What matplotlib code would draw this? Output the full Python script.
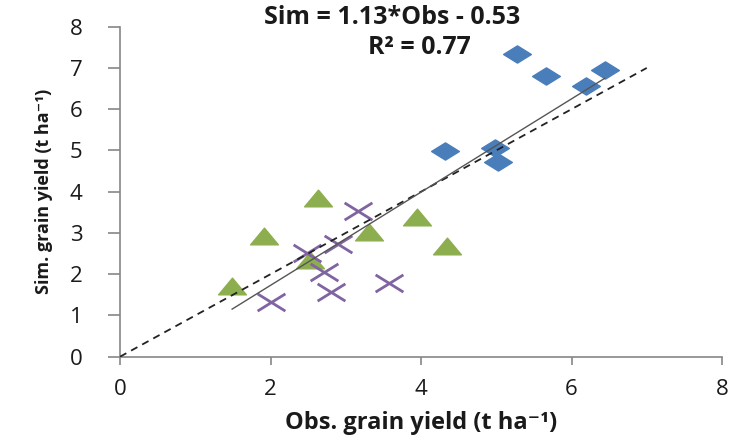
import matplotlib
matplotlib.use("Agg")
import matplotlib.pyplot as plt
import numpy as np
from matplotlib.path import Path

# Data
obs_blue = [5.28, 5.66, 6.44, 6.19, 4.32, 4.98, 5.02]
sim_blue = [7.33, 6.80, 6.96, 6.57, 4.99, 5.07, 4.72]

obs_green = [2.63, 3.95, 1.91, 3.31, 4.34, 2.52, 1.49]
sim_green = [3.85, 3.38, 2.93, 3.03, 2.69, 2.34, 1.72]

obs_purple = [3.16, 2.90, 2.48, 2.71, 2.80, 3.58, 2.01]
sim_purple = [3.54, 2.73, 2.51, 2.05, 1.56, 1.78, 1.33]

slope, intercept = 1.13, -0.53
r2 = 0.77
one_to_one = [0, 7]
xticks = [0, 2, 4, 6, 8]
yticks = [0, 1, 2, 3, 4, 5, 6, 7, 8]

plt.rcParams['font.family'] = ['Open Sans', 'DejaVu Sans']

fig = plt.figure(figsize=(7.3, 4.36), dpi=100)
ax = fig.add_axes([120/730, 1-356.7/436, (722-120)/730, (356.7-26.7)/436])

# wide markers
diamond = Path([(-1, 0), (0, 0.62), (1, 0), (0, -0.62), (-1, 0)],
               [Path.MOVETO, Path.LINETO, Path.LINETO, Path.LINETO, Path.CLOSEPOLY])
triangle = Path([(-1, -0.6), (0, 0.6), (1, -0.6), (-1, -0.6)],
                [Path.MOVETO, Path.LINETO, Path.LINETO, Path.CLOSEPOLY])
cross = Path([(-1, -0.62), (1, 0.62), (-1, 0.62), (1, -0.62)],
             [Path.MOVETO, Path.LINETO, Path.MOVETO, Path.LINETO])

# 1:1 dashed line
ax.plot(one_to_one, one_to_one, color='#222222', lw=1.3, ls=(0, (4, 3)), zorder=4)

ax.plot(obs_blue, sim_blue, ls='none', marker=diamond, ms=20, color='#4A7EBB',
        mec='#4A7EBB', zorder=3)
ax.plot(obs_green, sim_green, ls='none', marker=triangle, ms=20, color='#8DAE4E',
        mec='#8DAE4E', zorder=3)
ax.plot(obs_purple, sim_purple, ls='none', marker=cross, ms=20, mfc='none',
        mec='#8064A2', mew=2.0, zorder=3)

# trend line over all observed data
all_obs = np.array(obs_blue + obs_green + obs_purple)
xs = np.array([all_obs.min(), all_obs.max()])
ax.plot(xs, slope * xs + intercept, color='#555555', lw=1.0, zorder=5)

ax.set_xlim(0, 8)
ax.set_ylim(0, 8)
ax.set_xticks(xticks)
ax.set_yticks(yticks)
for s in ['top', 'right']:
    ax.spines[s].set_visible(False)
for s in ['left', 'bottom']:
    ax.spines[s].set_color('#868686')
    ax.spines[s].set_linewidth(1.2)
ax.tick_params(axis='both', colors='#868686', width=1.2,
               labelcolor='#1a1a1a', labelsize=16, direction='out')
ax.tick_params(axis='x', length=6, pad=10)
ax.tick_params(axis='y', length=9, pad=18)

ax.set_xlabel('Obs. grain yield (t ha⁻¹)', fontsize=17, fontweight='bold',
              labelpad=8, color='#1a1a1a')
ax.set_ylabel('Sim. grain yield (t ha⁻¹)', fontsize=13, fontweight='bold',
              labelpad=12, color='#1a1a1a')

fig.text(392/730, 1-18/436, f'Sim = {slope:.2f}*Obs - {abs(intercept):.2f}',
         ha='center', va='center', fontsize=18, fontweight='bold', color='#1a1a1a')
fig.text(419/730, 1-48/436, f'R² = {r2:.2f}',
         ha='center', va='center', fontsize=18, fontweight='bold', color='#1a1a1a')

fig.savefig('out.png', dpi=100)
